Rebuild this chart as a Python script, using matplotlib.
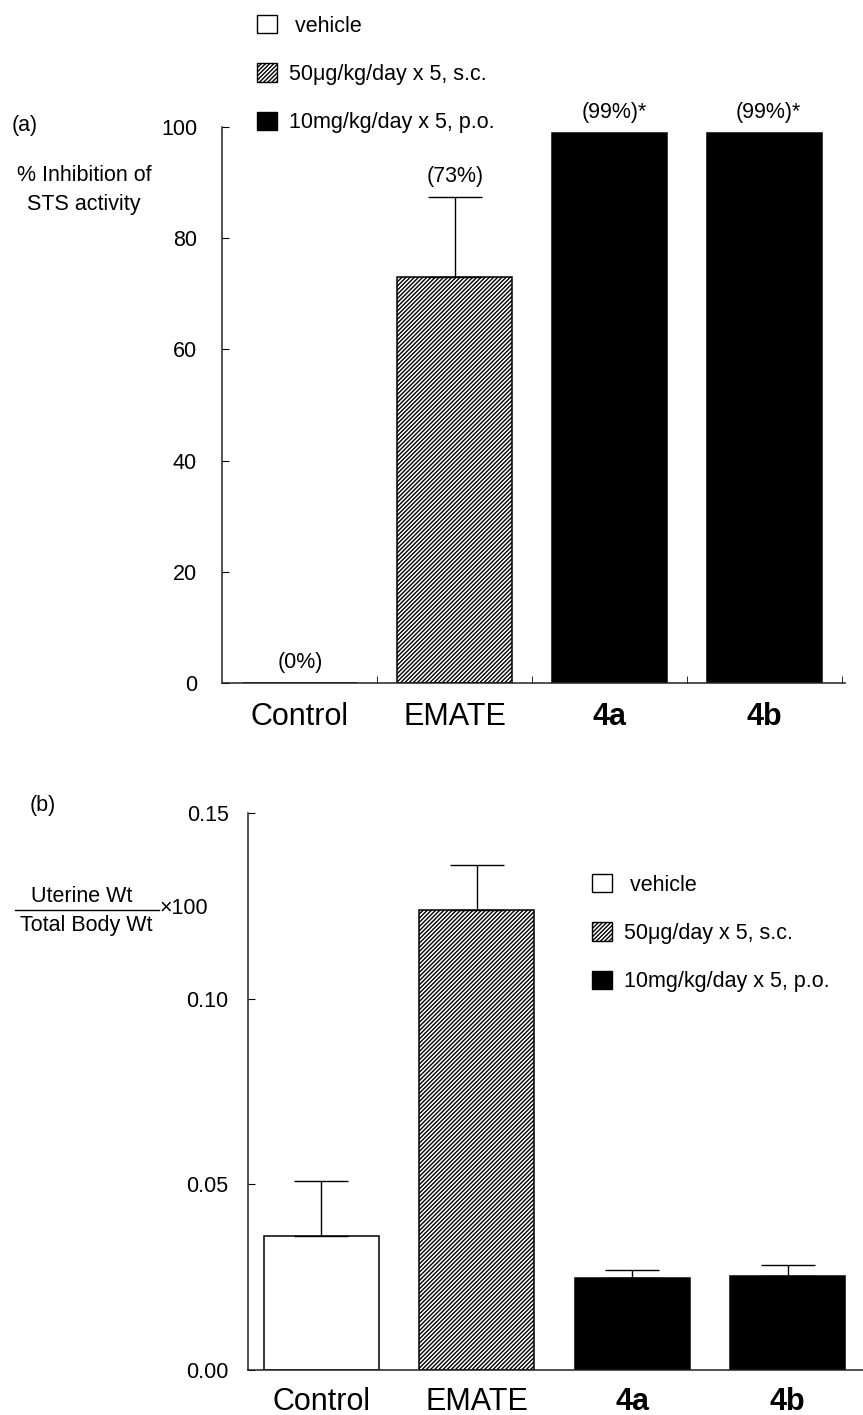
import numpy as np
from matplotlib import pyplot as plt, patches, lines

plt.rcParams['font.family'] = ['Liberation Sans', 'DejaVu Sans']
plt.rcParams['hatch.linewidth'] = 1.0

groups = ['Control', 'EMATE', '4a', '4b']
treatment = ['vehicle', 'sc', 'po', 'po']

# (a) % inhibition of STS activity
inhib = [0, 73, 99, 99]
inhib_err = [0, 14.4, 0, 0]
inhib_labels = ['(0%)', '(73%)', '(99%)*', '(99%)*']

# (b) uterine weight / total body weight x 100
uterine = [0.036, 0.124, 0.0247, 0.0253]
uterine_err = [0.015, 0.012, 0.0022, 0.003]

legend_a = [' vehicle', '50\u03bcg/kg/day x 5, s.c.', '10mg/kg/day x 5, p.o.']
legend_b = [' vehicle', '50\u03bcg/day x 5, s.c.', '10mg/kg/day x 5, p.o.']

styles = {
  'vehicle': dict(facecolor='white', hatch=None),
  'sc': dict(facecolor='white', hatch='////////'),
  'po': dict(facecolor='black', hatch=None),
}

W, H = 863, 1415
fig = plt.figure(figsize=(W / 100, H / 100), dpi=100)

def px_axes(left, top, right, bottom):
  return fig.add_axes([left / W, 1 - bottom / H, (right - left) / W, (bottom - top) / H])

def draw_bars(ax, values, errs):
  x = np.arange(len(values))
  for i, (v, t) in enumerate(zip(values, treatment)):
    ax.bar(x[i], v, width=0.74, edgecolor='black', linewidth=1.1, **styles[t])
  e = np.array(errs)
  keep = e > 0
  ax.errorbar(x[keep], np.array(values)[keep], yerr=[np.zeros(keep.sum()), e[keep]],
              fmt='none', ecolor='black', elinewidth=1.0, capsize=19.5, capthick=1.0)
  ax.spines[['top', 'right']].set_visible(False)
  for s in ['left', 'bottom']:
    ax.spines[s].set_linewidth(1.1)
    ax.spines[s].set_color('#222222')
  ax.set_xticks(x)
  ax.set_xticklabels(groups, fontsize=22)
  for lab in ax.get_xticklabels():
    if lab.get_text() in ('4a', '4b'):
      lab.set_fontweight('bold')

def add_legend(ax, labels, left, top):
  handles = [patches.Patch(edgecolor='black', linewidth=1.0, **styles[t]) for t in ['vehicle', 'sc', 'po']]
  ax.legend(handles, labels, loc='upper left',
            bbox_to_anchor=(left / W, 1 - top / H), bbox_transform=fig.transFigure,
            frameon=False, fontsize=15.5, handlelength=0.93, handleheight=0.93,
            handletextpad=0.55, labelspacing=1.25, borderpad=0, borderaxespad=0)

# ---- panel (a)
ax_a = px_axes(222, 127, 845, 683)
draw_bars(ax_a, inhib, inhib_err)
ax_a.set_xlim(-0.503, 3.52)
ax_a.set_ylim(0, 100)
ax_a.set_yticks(np.arange(0, 101, 20))
ax_a.tick_params(axis='y', direction='in', length=5, pad=18, labelsize=15.5)
ax_a.tick_params(axis='x', which='major', length=0, pad=14)
ax_a.set_xticks(np.arange(len(groups)) + 0.5, minor=True)
ax_a.tick_params(axis='x', which='minor', direction='in', length=5)
for i, (v, e, lab) in enumerate(zip(inhib, inhib_err, inhib_labels)):
  shift = 3 if lab.endswith('*') else 0
  ax_a.annotate(lab, (i, v + e), xytext=(shift, 7), textcoords='offset points',
                ha='center', va='bottom', fontsize=15.5)
add_legend(ax_a, legend_a, 257, 15)

fig.text(12 / W, 1 - 125 / H, '(a)', fontsize=15.5, va='center')
fig.text(84 / W, 1 - 190 / H, '% Inhibition of\nSTS activity', fontsize=15.5,
         ha='center', va='center', linespacing=1.45)

# ---- panel (b)
ax_b = px_axes(248, 813, 863, 1370)
draw_bars(ax_b, uterine, uterine_err)
ax_b.set_xlim(-0.47, 3.485)
ax_b.set_ylim(0, 0.15)
ax_b.set_yticks([0, 0.05, 0.10, 0.15])
ax_b.set_yticklabels(['0.00', '0.05', '0.10', '0.15'])
ax_b.tick_params(axis='y', direction='in', length=5, pad=14, labelsize=15.5)
ax_b.tick_params(axis='x', length=0, pad=12)
add_legend(ax_b, legend_b, 592, 874)

fig.text(30 / W, 1 - 805 / H, '(b)', fontsize=15.5, va='center')
fig.text(82 / W, 1 - 896 / H, 'Uterine Wt', fontsize=15.5, ha='center', va='center')
fig.text(86 / W, 1 - 926 / H, 'Total Body Wt', fontsize=15.5, ha='center', va='center')
fig.add_artist(lines.Line2D([15 / W, 159 / W], [1 - 910 / H, 1 - 910 / H], color='black', linewidth=1.0))
fig.text(160 / W, 1 - 909 / H, '\u00d7100', fontsize=15.5, ha='left', va='center')

fig.savefig('out.png', dpi=100)
